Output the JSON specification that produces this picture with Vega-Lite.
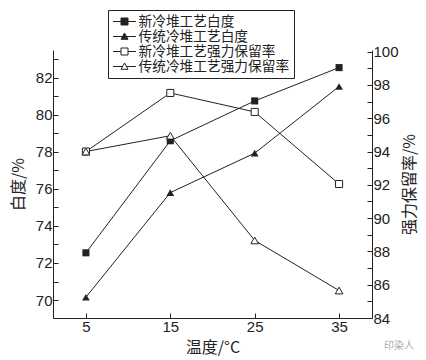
{
  "$schema": "https://vega.github.io/schema/vega-lite/v6.json",
  "width": 319,
  "height": 268,
  "autosize": {"type": "none"},
  "padding": {"left": 53, "top": 50, "right": 54, "bottom": 42},
  "background": "white",
  "datasets": {
    "white": [
      {"t": 5, "v": 72.55, "s": "新冷堆工艺白度"},
      {"t": 15, "v": 78.6, "s": "新冷堆工艺白度"},
      {"t": 25, "v": 80.75, "s": "新冷堆工艺白度"},
      {"t": 35, "v": 82.55, "s": "新冷堆工艺白度"},
      {"t": 5, "v": 70.15, "s": "传统冷堆工艺白度"},
      {"t": 15, "v": 75.8, "s": "传统冷堆工艺白度"},
      {"t": 25, "v": 77.93, "s": "传统冷堆工艺白度"},
      {"t": 35, "v": 81.53, "s": "传统冷堆工艺白度"}
    ],
    "strength": [
      {"t": 5, "v": 94.0, "s": "新冷堆工艺强力保留率"},
      {"t": 15, "v": 97.52, "s": "新冷堆工艺强力保留率"},
      {"t": 25, "v": 96.38, "s": "新冷堆工艺强力保留率"},
      {"t": 35, "v": 92.05, "s": "新冷堆工艺强力保留率"},
      {"t": 5, "v": 94.0, "s": "传统冷堆工艺强力保留率"},
      {"t": 15, "v": 94.95, "s": "传统冷堆工艺强力保留率"},
      {"t": 25, "v": 88.66, "s": "传统冷堆工艺强力保留率"},
      {"t": 35, "v": 85.65, "s": "传统冷堆工艺强力保留率"}
    ]
  },
  "config": {
    "view": {"stroke": null},
    "axis": {
      "grid": false,
      "domainColor": "#222",
      "tickColor": "#222",
      "labelColor": "#222",
      "titleColor": "#222",
      "labelFont": "Liberation Sans",
      "labelFontSize": 15,
      "titleFont": "Noto Sans CJK SC",
      "titleFontSize": 16,
      "titleFontWeight": "normal",
      "tickSize": -5,
      "labelPadding": 6
    },
    "legend": {
      "title": null,
      "orient": "none",
      "legendX": 55,
      "legendY": -40,
      "strokeColor": "#222",
      "padding": 4,
      "rowPadding": 0,
      "symbolSize": 196,
      "symbolOffset": 5,
      "symbolStrokeColor": "#222",
      "symbolStrokeWidth": 1,
      "labelFont": "Noto Sans CJK SC",
      "labelFontSize": 13.7,
      "labelColor": "#222",
      "labelOffset": 6.5,
      "labelLimit": 300
    }
  },
  "title": {
    "text": "印染人",
    "orient": "bottom",
    "anchor": "end",
    "font": "Noto Sans CJK SC",
    "fontSize": 10,
    "fontWeight": "normal",
    "color": "#aaa",
    "offset": -14,
    "dx": -3
  },
  "encoding": {
    "x": {
      "field": "t",
      "type": "quantitative",
      "scale": {"domain": [1.1, 38.9], "nice": false, "zero": false},
      "axis": {"values": [5, 15, 25, 35], "title": "温度/°C", "titlePadding": 5}
    }
  },
  "layer": [
    {
      "data": {"name": "white"},
      "encoding": {
        "y": {
          "field": "v",
          "type": "quantitative",
          "scale": {"domain": [69.03, 83.5], "nice": false, "zero": false},
          "axis": {
            "orient": "left",
            "title": "白度/%",
            "values": [70, 71, 72, 73, 74, 75, 76, 77, 78, 79, 80, 81, 82, 83],
            "labelExpr": "datum.value % 2 == 0 ? datum.label : ''",
            "titlePadding": 9
          }
        }
      },
      "layer": [
        {"mark": {"type": "line", "color": "#222", "strokeWidth": 1}, "encoding": {"detail": {"field": "s"}}},
        {
          "transform": [{"filter": "datum.s == '新冷堆工艺白度'"}],
          "mark": {"type": "point", "shape": "square", "filled": true, "color": "#222", "size": 50, "opacity": 1}
        },
        {
          "transform": [{"filter": "datum.s == '传统冷堆工艺白度'"}],
          "mark": {"type": "point", "shape": "triangle-up", "filled": true, "color": "#222", "size": 60, "opacity": 1}
        }
      ]
    },
    {
      "data": {"name": "strength"},
      "encoding": {
        "y": {
          "field": "v",
          "type": "quantitative",
          "scale": {"domain": [84, 100.1], "nice": false, "zero": false},
          "axis": {
            "orient": "right",
            "title": "强力保留率/%",
            "titleAngle": -90,
            "values": [84, 85, 86, 87, 88, 89, 90, 91, 92, 93, 94, 95, 96, 97, 98, 99, 100],
            "labelExpr": "datum.value % 2 == 0 ? datum.label : ''",
            "titlePadding": 19
          }
        }
      },
      "layer": [
        {"mark": {"type": "line", "color": "#222", "strokeWidth": 1}, "encoding": {"detail": {"field": "s"}}},
        {
          "transform": [{"filter": "datum.s == '新冷堆工艺强力保留率'"}],
          "mark": {"type": "point", "shape": "square", "filled": true, "fill": "white", "stroke": "#222", "strokeWidth": 1, "size": 50, "opacity": 1}
        },
        {
          "transform": [{"filter": "datum.s == '传统冷堆工艺强力保留率'"}],
          "mark": {"type": "point", "shape": "triangle-up", "filled": true, "fill": "white", "stroke": "#222", "strokeWidth": 1, "size": 60, "opacity": 1}
        },
        {
          "data": {"values": [
            {"s": "新冷堆工艺白度", "t": 5, "v": 94},
            {"s": "传统冷堆工艺白度", "t": 5, "v": 94},
            {"s": "新冷堆工艺强力保留率", "t": 5, "v": 94},
            {"s": "传统冷堆工艺强力保留率", "t": 5, "v": 94}
          ]},
          "mark": {"type": "point", "filled": true, "opacity": 0, "stroke": "#222", "strokeWidth": 1},
          "encoding": {
            "shape": {
              "field": "s",
              "type": "nominal",
              "sort": null,
              "scale": {
                "domain": ["新冷堆工艺白度", "传统冷堆工艺白度", "新冷堆工艺强力保留率", "传统冷堆工艺强力保留率"],
                "range": [
                  "M-1.64,0H-0.5M0.5,0H1.64M-0.5,-0.5H0.5V0.5H-0.5Z",
                  "M-1.64,0H-0.28M0.28,0H1.64M0,-0.5L0.5,0.4L-0.5,0.4Z",
                  "M-1.64,0H-0.5M0.5,0H1.64M-0.5,-0.5H0.5V0.5H-0.5Z",
                  "M-1.64,0H-0.28M0.28,0H1.64M0,-0.5L0.5,0.4L-0.5,0.4Z"
                ]
              },
              "legend": {"encode": {"symbols": {"update": {"opacity": {"value": 1}}}}}
            },
            "fill": {
              "field": "s",
              "type": "nominal",
              "sort": null,
              "scale": {
                "domain": ["新冷堆工艺白度", "传统冷堆工艺白度", "新冷堆工艺强力保留率", "传统冷堆工艺强力保留率"],
                "range": ["#222", "#222", "white", "white"]
              },
              "legend": {"encode": {"symbols": {"update": {"opacity": {"value": 1}}}}}
            }
          }
        }
      ]
    }
  ],
  "resolve": {"scale": {"y": "independent"}}
}
